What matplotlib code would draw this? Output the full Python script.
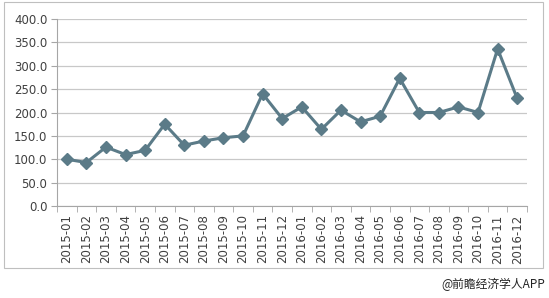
import matplotlib

matplotlib.use("Agg")
import matplotlib.pyplot as plt  # noqa: E402
from matplotlib.patches import Rectangle  # noqa: E402
from matplotlib.ticker import FixedLocator  # noqa: E402

months = [f"2015-{m:02d}" for m in range(1, 13)] + [f"2016-{m:02d}" for m in range(1, 13)]
values = [100, 93, 126, 110, 119, 175, 130, 139, 146, 150, 240, 187,
          212, 164, 205, 180, 192, 273, 200, 200, 212, 200, 336, 230]
yticks = [0, 50, 100, 150, 200, 250, 300, 350, 400]

W, H = 549, 298
fig = plt.figure(figsize=(W / 100, H / 100), dpi=100)
fig.patches.append(Rectangle((4 / W, 1 - 268 / H), 539 / W, 266 / H,
                             transform=fig.transFigure, fill=False,
                             edgecolor="#bfbfbf", linewidth=0.8))

ax = fig.add_axes([57 / W, 1 - 206 / H, 470 / W, 187 / H])
x = list(range(len(months)))
ax.plot(x, values, color="#5b7b88", linewidth=2.2, marker="D",
        markersize=6.5, markerfacecolor="#5b7b88", markeredgecolor="#5b7b88")

ax.set_xlim(-0.5, len(months) - 0.5)
ax.set_ylim(0, 400)
ax.set_yticks(yticks)
ax.set_yticklabels([f"{v:.1f}" for v in yticks], fontsize=8.5, color="#404040")
ax.set_xticks(x)
ax.set_xticklabels(months, rotation=90, fontsize=8.5, color="#404040")
ax.tick_params(axis="x", length=0, pad=6)
ax.xaxis.set_minor_locator(FixedLocator([i - 0.5 for i in range(len(months) + 1)]))
ax.tick_params(axis="x", which="minor", length=4, color="#a6a6a6")
ax.tick_params(axis="y", length=4, color="#a6a6a6", pad=3)
ax.grid(axis="y", color="#c8c8c8", linewidth=0.9)
ax.set_axisbelow(True)
for s in ["top", "right"]:
    ax.spines[s].set_visible(False)
for s in ["left", "bottom"]:
    ax.spines[s].set_color("#a6a6a6")

fig.text(545 / W, 1 - 284 / H, "@前瞻经济学人APP", ha="right", va="center",
         fontsize=8.5, family=["Noto Sans CJK SC", "DejaVu Sans"], color="#222222")

fig.savefig("out.png", dpi=100)
